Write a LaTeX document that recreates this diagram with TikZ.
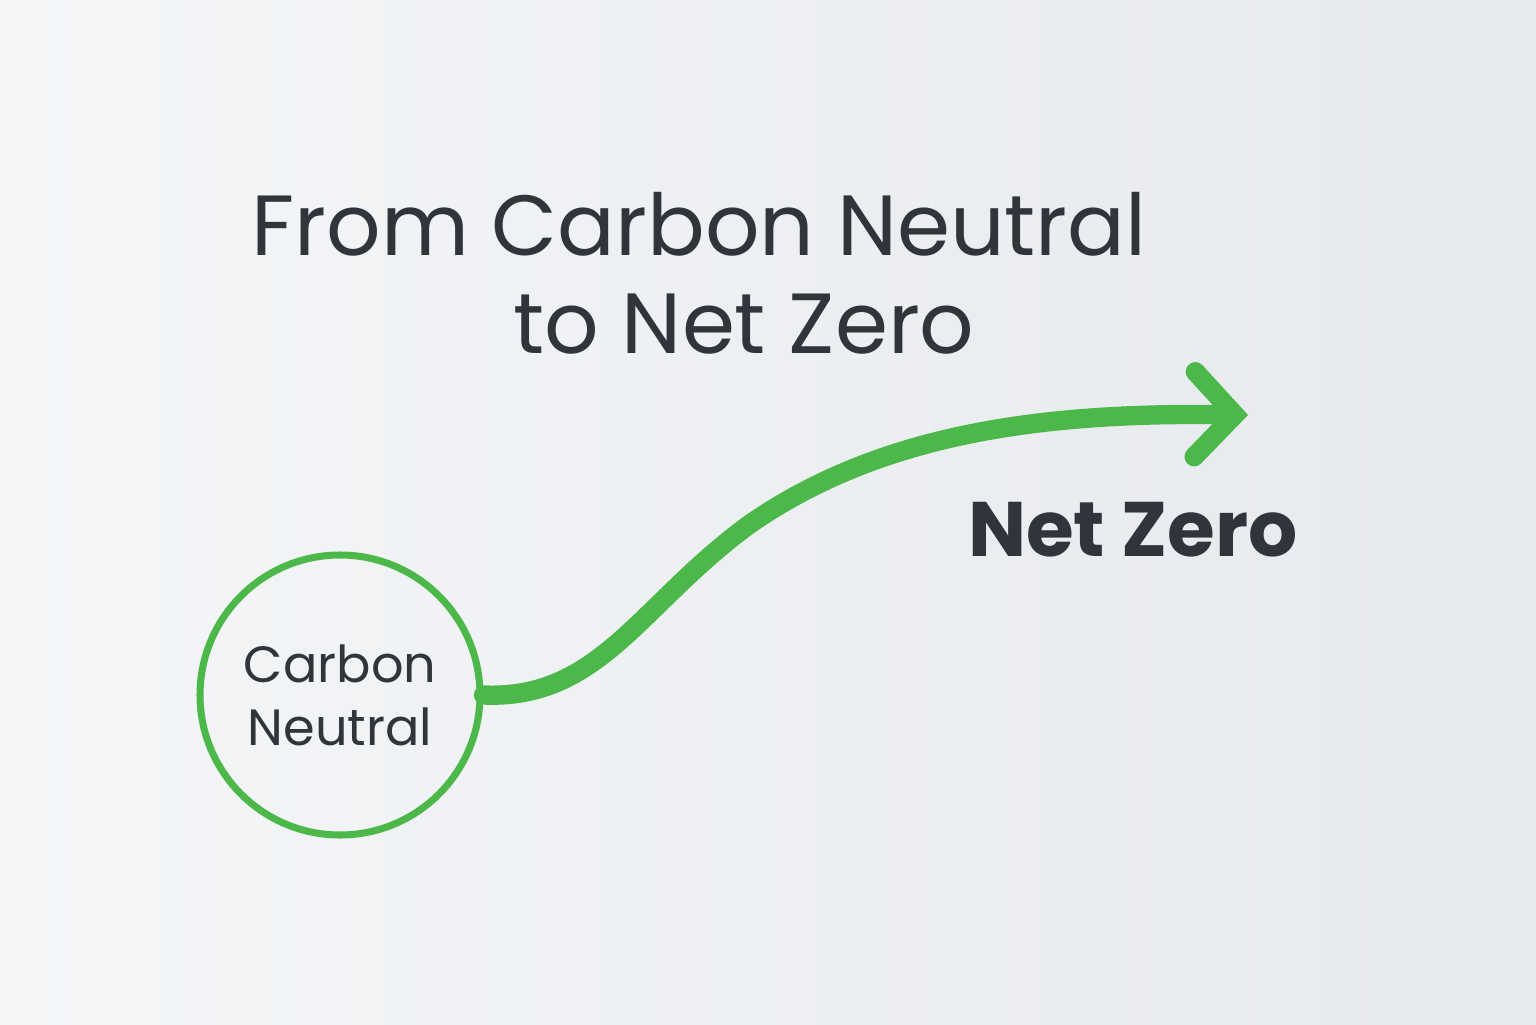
\documentclass[tikz,border=0pt]{standalone}
\usepackage{fontspec}
\setmainfont{Poppins}
\usetikzlibrary{arrows.meta,positioning}
\definecolor{leaf}{HTML}{4DB84A}
\definecolor{ink}{HTML}{30353B}
\definecolor{bgL}{HTML}{F4F6F8}
\definecolor{bgR}{HTML}{E6E9ED}
\tikzset{
  title/.style={text=ink, font=\fontsize{24.3}{28}\selectfont},
  label/.style={text=ink, font=\bfseries\fontsize{22}{26}\selectfont},
}
\begin{document}
\begin{tikzpicture}

\shade[left color=bgL, right color=bgR] (0,0) rectangle (15.36,10.24);
\useasboundingbox (0,0) rectangle (15.36,10.24);

\node[title] (t1) at (6.99,8.00) {From Carbon Neutral};
\node[title] (t2) at (7.44,7.00) {to Net Zero};

\node[circle, draw=leaf, line width=2pt, minimum size=2.8cm, align=center,
      text=ink, font=\fontsize{14.5}{18}\selectfont, inner sep=0pt] (cn) at (3.40,3.29) {Carbon\\Neutral};

\node[label] (nz) at (11.33,4.94) {Net Zero};

\coordinate (end) at (12.48,6.09);
\draw[leaf, line width=5.5pt, line cap=round,
      -{Straight Barb[length=0.4cm, width=0.85cm, line cap=round]}]
  (cn.east) .. controls (6.0,3.24) and (6.4,4.2) .. (7.5,5.0)
  .. controls (8.8,5.9) and (10.4,6.12) .. (end);

\end{tikzpicture}
\end{document}
